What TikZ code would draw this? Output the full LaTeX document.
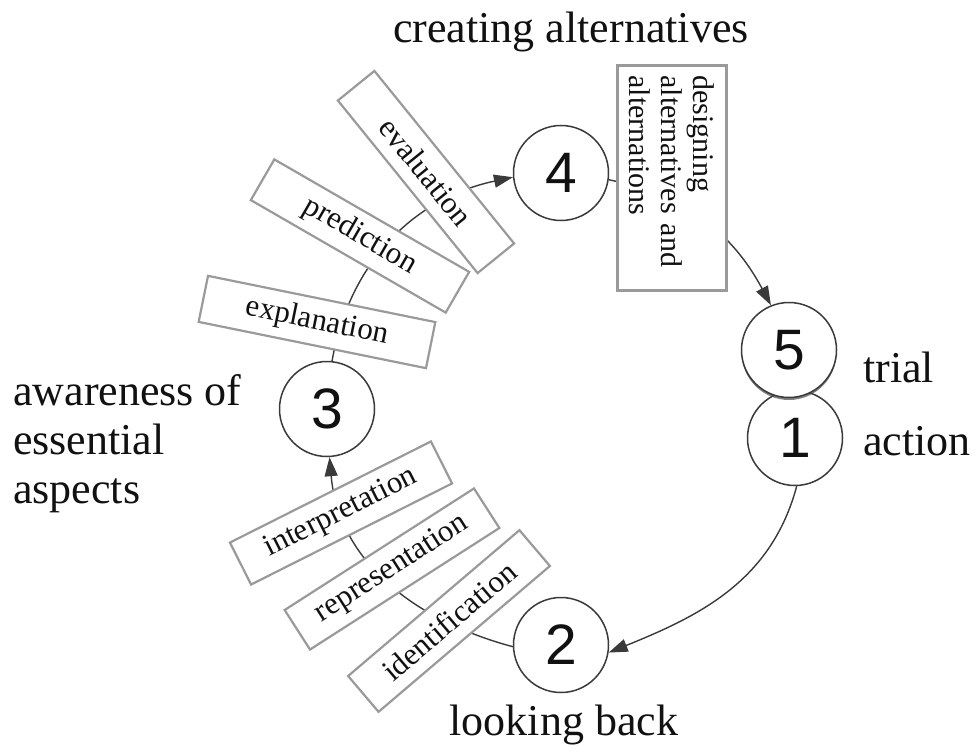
\documentclass[tikz,border=0pt]{standalone}
\usepackage{fontspec}
\setmainfont{Liberation Serif}
\newfontfamily\digitfont{Liberation Sans}
\usetikzlibrary{arrows.meta,shadows,backgrounds}
\definecolor{circ}{HTML}{3A3A3A}
\definecolor{boxc}{HTML}{9A9A9A}
\definecolor{ink}{HTML}{111111}
\begin{document}
\begin{tikzpicture}[x=1pt,y=1pt,
  stage/.style={circle, draw=circ, line width=1.5pt, fill=white, minimum size=95pt, inner sep=0pt, text=ink, font=\digitfont\fontsize{57}{57}\selectfont},
  tbox/.style={draw=boxc, line width=2.2pt, fill=white, minimum width=225pt, minimum height=47pt, inner sep=0pt, text=ink, font=\fontsize{31}{33}\selectfont},
  dbox/.style={draw=boxc, line width=2.2pt, fill=white, minimum width=225pt, minimum height=109pt, inner sep=0pt, text width=205pt, align=left, text=ink, font=\fontsize{30}{32}\selectfont},
  lab/.style={font=\fontsize{44}{49}\selectfont, inner sep=0pt, text=ink},
  conn/.style={draw=circ, line width=1.4pt},
  arrowed/.style={-{Triangle[length=19pt,width=13pt]}}
]
\useasboundingbox (0,0) rectangle (979,-754);

% stage circles
\node[stage] (n4) at (561,-173) {4};
\node[stage] (n1) at (795,-438) {1};
\node[stage, drop shadow={shadow xshift=0pt, shadow yshift=-2.5pt, fill=black!70, opacity=0.7}] (n5) at (789,-350) {5};
\node[stage] (n2) at (561,-645) {2};
\node[stage] (n3) at (327,-409) {3};

% boxes between 3 and 4
\node[tbox, minimum width=232pt, rotate=-11.5] (bexp) at (317,-322) {explanation};
\node[tbox, rotate=-30] (bpre) at (360,-236) {prediction};
\node[tbox, minimum width=222pt, rotate=-51] (beva) at (426,-172) {evaluation};

% boxes between 2 and 3
\node[tbox, rotate=40.4] (bide) at (449,-621) {identification};
\node[tbox, rotate=32.7] (brep) at (392,-569) {representation};
\node[tbox, rotate=26.7] (bint) at (341,-513) {interpretation};

% designing box
\node[dbox, rotate=-90] (bdes) at (672,-178) {designing\\alternatives and\\alternations};

% labels
\node[lab, anchor=base] (lcre) at (571,-43) {creating alternatives};
\node[lab, anchor=base] (lloo) at (564,-735) {looking back};
\node[lab, anchor=base west] (ltri) at (863,-382) {trial};
\node[lab, anchor=base west] (lact) at (863,-455) {action};
\node[lab, anchor=west, align=left] (lawa) at (13,-444) {awareness of\\essential\\aspects};

% connectors (behind everything)
\begin{scope}[on background layer]
\draw[conn, arrowed] (n3.84) to[out=80, in=192] (n4.185);
\draw[conn, arrowed] (n4.-8) to[out=-12, in=118] (n5.112);
\draw[conn, arrowed] (n1.-88) to[out=-105, in=22] (n2.-9);
\draw[conn, arrowed] (n2.182) to[out=165, in=-85] (n3.-87);
\end{scope}
\end{tikzpicture}
\end{document}
